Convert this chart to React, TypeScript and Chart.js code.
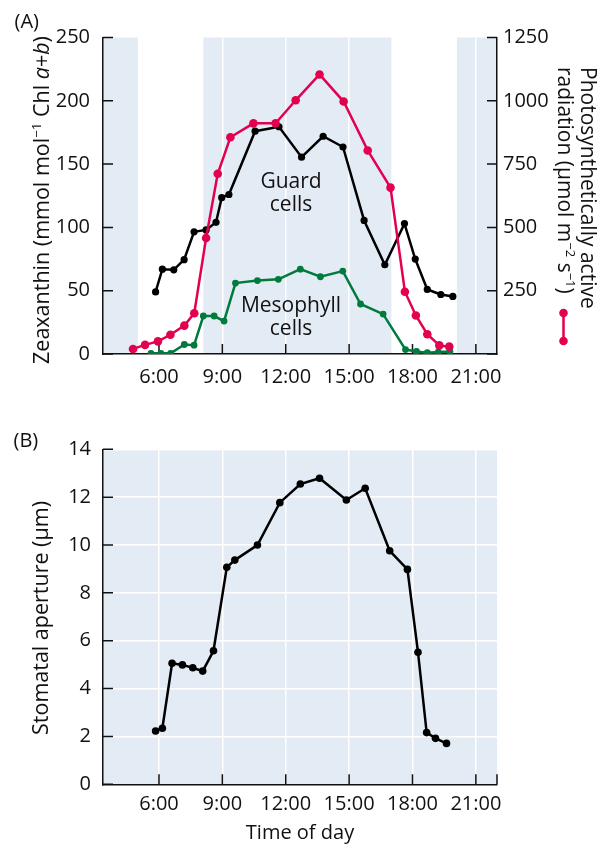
import React, { useEffect, useRef } from 'react';
import { Chart, registerables } from 'chart.js';

Chart.register(...registerables);

// ---- data -------------------------------------------------------------
// Time axis (hours of the day)
const hourMin = 3.35;
const hourMax = 22;
const hourTicks = [6, 9, 12, 15, 18, 21];

// Shaded stretches of the day in panel A (start hour, end hour)
const shadedSpans: [number, number][] = [
  [3.35, 5.0],
  [8.1, 17.0],
  [20.1, 22],
];

// Photosynthetically active radiation (µmol m-2 s-1)
const parHours = [4.77, 5.34, 5.95, 6.54, 7.2, 7.67, 8.23, 8.78, 9.38, 10.47, 11.52, 12.47, 13.6, 14.74, 15.88, 16.96, 17.64, 18.16, 18.7, 19.27, 19.74];
const parValues = [20, 36, 50, 76, 112, 161, 458, 712, 856, 911, 911, 1002, 1104, 997, 804, 657, 246, 152, 78, 34, 29];

// Zeaxanthin in guard cells (mmol mol-1 Chl a+b)
const guardHours = [5.84, 6.16, 6.7, 7.19, 7.66, 8.23, 8.7, 8.97, 9.31, 10.55, 11.68, 12.75, 13.77, 14.71, 15.71, 16.69, 17.62, 18.13, 18.7, 19.34, 19.91];
const guardValues = [49, 67, 66.5, 74.5, 96.5, 98, 104, 123.5, 126, 176, 179.5, 155.5, 172, 163.5, 105.5, 70.5, 103, 75, 51, 47, 45.5];

// Zeaxanthin in mesophyll cells (mmol mol-1 Chl a+b)
const mesoHours = [5.62, 6.09, 6.55, 7.2, 7.66, 8.1, 8.61, 9.08, 9.62, 10.66, 11.65, 12.69, 13.64, 14.7, 15.54, 16.61, 17.67, 18.19, 18.7, 19.22, 19.77];
const mesoValues = [0.5, 0.5, 0.5, 7.5, 7, 30, 30, 26, 56, 58, 59, 67, 61, 65.5, 39.5, 31.5, 3.5, 2, 1, 1.5, 2];

// Stomatal aperture (µm)
const apertureHours = [5.84, 6.16, 6.62, 7.11, 7.6, 8.07, 8.58, 9.21, 9.59, 10.66, 11.72, 12.69, 13.6, 14.87, 15.76, 16.92, 17.76, 18.26, 18.67, 19.09, 19.61];
const apertureValues = [2.23, 2.34, 5.06, 4.99, 4.87, 4.73, 5.58, 9.07, 9.37, 10.0, 11.77, 12.55, 12.79, 11.88, 12.37, 9.76, 8.98, 5.52, 2.16, 1.92, 1.71];

// Axis ticks
const zeaTicks = [0, 50, 100, 150, 200, 250];
const parTicks = [0, 250, 500, 750, 1000, 1250];
const apertureTicks = [0, 2, 4, 6, 8, 10, 12, 14];

// ---- styles -------------------------------------------------------------
const FONT = '"Open Sans", "Noto Sans", sans-serif';
const INK = '#111111';
const RED = '#e2004f';
const GREEN = '#007a3d';
const SHADE = '#e3ebf5';

const pts = (xs: number[], ys: number[]) => xs.map((x, i) => ({ x, y: ys[i] }));

// Light-blue bands behind the plots
const bandsPlugin = {
  id: 'bands',
  beforeDraw(chart: any, _a: any, opts: any) {
    const { ctx, chartArea } = chart;
    const x = chart.scales.x;
    ctx.save();
    ctx.fillStyle = SHADE;
    if (opts.full) {
      ctx.fillRect(chartArea.left, chartArea.top, chartArea.right - chartArea.left, chartArea.bottom - chartArea.top);
    } else {
      for (const [a, b] of shadedSpans) {
        const x0 = x.getPixelForValue(a);
        const x1 = x.getPixelForValue(b);
        ctx.fillRect(x0, chartArea.top, x1 - x0, chartArea.bottom - chartArea.top);
      }
    }
    ctx.restore();
  },
};

// Short tick marks pointing into the plot area
const inwardTicksPlugin = {
  id: 'inwardTicks',
  beforeDatasetsDraw(chart: any, _a: any, opts: any) {
    const { ctx, chartArea } = chart;
    const { left, right, bottom } = chartArea;
    const len = 10;
    ctx.save();
    ctx.strokeStyle = INK;
    ctx.lineWidth = 1.5;
    ctx.beginPath();
    for (const id of Object.keys(chart.scales)) {
      const s = chart.scales[id];
      for (const t of s.ticks) {
        const p = s.getPixelForValue(t.value);
        if (s.isHorizontal()) {
          ctx.moveTo(p, bottom);
          ctx.lineTo(p, bottom - len);
        } else if (s.position === 'left') {
          ctx.moveTo(left, p);
          ctx.lineTo(left + len, p);
        } else {
          ctx.moveTo(right, p);
          ctx.lineTo(right - len, p);
        }
      }
    }
    if (opts.endTick) {
      ctx.moveTo(right, bottom);
      ctx.lineTo(right, bottom - len);
    }
    ctx.stroke();
    ctx.restore();
  },
};

// In-plot labels for the two zeaxanthin curves, plus the PAR key symbol
const curveLabelsPlugin = {
  id: 'curveLabels',
  afterDatasetsDraw(chart: any) {
    const { ctx } = chart;
    const x = chart.scales.x;
    const y = chart.scales.y;
    ctx.save();
    ctx.fillStyle = INK;
    ctx.font = `21px ${FONT}`;
    ctx.textAlign = 'center';
    ctx.textBaseline = 'alphabetic';
    const cx = x.getPixelForValue(12.25);
    ctx.fillText('Guard', cx, y.getPixelForValue(131));
    ctx.fillText('cells', cx, y.getPixelForValue(112.6));
    ctx.fillText('Mesophyll', cx, y.getPixelForValue(33.5));
    ctx.fillText('cells', cx, y.getPixelForValue(15));

    // key symbol for the PAR curve (beside the right-hand axis title)
    const kx = 563.5;
    const ky0 = 313;
    const ky1 = 341;
    ctx.strokeStyle = RED;
    ctx.fillStyle = RED;
    ctx.lineWidth = 2.5;
    ctx.beginPath();
    ctx.moveTo(kx, ky0);
    ctx.lineTo(kx, ky1);
    ctx.stroke();
    for (const ky of [ky0, ky1]) {
      ctx.beginPath();
      ctx.arc(kx, ky, 4.3, 0, Math.PI * 2);
      ctx.fill();
    }
    ctx.restore();
  },
};

const tickFont = { family: FONT, size: 20 };

const hourAxis = (padding: number, height: number, title?: string) => ({
  type: 'linear' as const,
  min: hourMin,
  max: hourMax,
  afterBuildTicks: (s: any) => {
    s.ticks = hourTicks.map((v) => ({ value: v }));
  },
  afterFit: (s: any) => {
    s.height = height;
  },
  ticks: {
    color: INK,
    font: tickFont,
    padding,
    maxRotation: 0,
    autoSkip: false,
    callback: (v: any) => `${v}:00`,
  },
  grid: { display: true, color: '#ffffff', lineWidth: 1.5, drawTicks: false, tickLength: 0 },
  border: { display: true, color: INK, width: 1.5 },
  title: title
    ? { display: true, text: title, color: INK, font: { family: FONT, size: 20, lineHeight: 1.2 }, padding: { top: 0, bottom: 0 } }
    : { display: false },
});

function buildPanelA(canvas: HTMLCanvasElement) {
  return new Chart(canvas, {
    type: 'line',
    data: {
      datasets: [
        {
          label: 'Photosynthetically active radiation',
          data: pts(parHours, parValues),
          yAxisID: 'yPar',
          borderColor: RED,
          backgroundColor: RED,
          pointBackgroundColor: RED,
          borderWidth: 2.5,
          pointRadius: 4.3,
          pointBorderWidth: 0,
        },
        {
          label: 'Guard cells',
          data: pts(guardHours, guardValues),
          yAxisID: 'y',
          borderColor: '#000000',
          backgroundColor: '#000000',
          pointBackgroundColor: '#000000',
          borderWidth: 2.5,
          pointRadius: 3.6,
          pointBorderWidth: 0,
        },
        {
          label: 'Mesophyll cells',
          data: pts(mesoHours, mesoValues),
          yAxisID: 'y',
          borderColor: GREEN,
          backgroundColor: GREEN,
          pointBackgroundColor: GREEN,
          borderWidth: 2.5,
          pointRadius: 3.4,
          pointBorderWidth: 0,
        },
      ],
    },
    options: {
      responsive: false,
      animation: false,
      events: [],
      layout: { padding: { top: 37.5, left: 0, right: 0, bottom: 0 } },
      elements: { line: { tension: 0 } },
      plugins: {
        legend: { display: false },
        tooltip: { enabled: false },
        bands: {},
        inwardTicks: {},
      } as any,
      scales: {
        x: hourAxis(11, 46) as any,
        y: {
          type: 'linear',
          position: 'left',
          min: 0,
          max: 250,
          afterBuildTicks: (s: any) => {
            s.ticks = zeaTicks.map((v) => ({ value: v }));
          },
          afterFit: (s: any) => {
            s.width = 103;
          },
          ticks: { color: INK, font: tickFont, padding: 13 },
          grid: { display: false, drawTicks: false, tickLength: 0 },
          border: { display: true, color: INK, width: 1.5 },
        },
        yPar: {
          type: 'linear',
          position: 'right',
          min: 0,
          max: 1250,
          afterBuildTicks: (s: any) => {
            s.ticks = parTicks.map((v) => ({ value: v }));
          },
          afterFit: (s: any) => {
            s.width = 109;
          },
          ticks: { color: INK, font: tickFont, padding: 6, callback: (v: any) => (v === 0 ? '' : `${v}`) },
          grid: { display: false, drawTicks: false, tickLength: 0 },
          border: { display: true, color: INK, width: 1.5 },
        },
      },
    },
    plugins: [bandsPlugin, inwardTicksPlugin, curveLabelsPlugin],
  } as any);
}

function buildPanelB(canvas: HTMLCanvasElement) {
  return new Chart(canvas, {
    type: 'line',
    data: {
      datasets: [
        {
          label: 'Stomatal aperture',
          data: pts(apertureHours, apertureValues),
          borderColor: '#000000',
          backgroundColor: '#000000',
          pointBackgroundColor: '#000000',
          borderWidth: 2.5,
          pointRadius: 3.8,
          pointBorderWidth: 0,
        },
      ],
    },
    options: {
      responsive: false,
      animation: false,
      events: [],
      layout: { padding: { top: 49.3, left: 0, right: 109, bottom: 0 } },
      elements: { line: { tension: 0 } },
      plugins: {
        legend: { display: false },
        tooltip: { enabled: false },
        bands: { full: true },
        inwardTicks: { endTick: true },
      } as any,
      scales: {
        x: hourAxis(7.5, 60.7, 'Time of day') as any,
        y: {
          type: 'linear',
          position: 'left',
          min: 0,
          max: 14,
          afterBuildTicks: (s: any) => {
            s.ticks = apertureTicks.map((v) => ({ value: v }));
          },
          afterFit: (s: any) => {
            s.width = 103;
          },
          ticks: { color: INK, font: tickFont, padding: 12 },
          grid: { display: true, color: '#ffffff', lineWidth: 1.5, drawTicks: false, tickLength: 0 },
          border: { display: true, color: INK, width: 1.5 },
        },
      },
    },
    plugins: [bandsPlugin, inwardTicksPlugin],
  } as any);
}

const sup: React.CSSProperties = { fontSize: '0.62em', lineHeight: 0, verticalAlign: '0.6em' };

function RotatedTitle(props: { cx: number; cy: number; size: number; children: React.ReactNode }) {
  return (
    <div
      style={{
        position: 'absolute',
        left: props.cx,
        top: props.cy,
        transform: 'translate(-50%, -50%) rotate(-90deg)',
        whiteSpace: 'nowrap',
        fontSize: props.size,
        lineHeight: '23px',
      }}
    >
      {props.children}
    </div>
  );
}

export default function App() {
  const refA = useRef<HTMLCanvasElement>(null);
  const refB = useRef<HTMLCanvasElement>(null);

  useEffect(() => {
    const a = buildPanelA(refA.current!);
    const b = buildPanelB(refB.current!);
    return () => {
      a.destroy();
      b.destroy();
    };
  }, []);

  return (
    <div
      style={{
        position: 'absolute',
        left: 0,
        top: 0,
        width: 606,
        height: 845,
        overflow: 'hidden',
        background: '#ffffff',
        fontFamily: FONT,
        color: INK,
      }}
    >
      <canvas ref={refA} width={606} height={400} style={{ position: 'absolute', left: 0, top: 0, width: 606, height: 400 }} />
      <canvas ref={refB} width={606} height={445} style={{ position: 'absolute', left: 0, top: 400, width: 606, height: 445 }} />

      <div style={{ position: 'absolute', left: 14.5, top: 9.2, fontSize: 20, lineHeight: '23px' }}>(A)</div>
      <div style={{ position: 'absolute', left: 13.5, top: 428, fontSize: 20, lineHeight: '23px' }}>(B)</div>

      <RotatedTitle cx={40} cy={200} size={21.5}>
        Zeaxanthin (mmol mol<span style={sup}>−1</span> Chl <i>a</i>+<i>b</i>)
      </RotatedTitle>

      <RotatedTitle cx={39} cy={617.5} size={21.5}>
        Stomatal aperture (µm)
      </RotatedTitle>

      <div
        style={{
          position: 'absolute',
          left: 600,
          top: 66.5,
          transformOrigin: '0 0',
          transform: 'rotate(90deg)',
          whiteSpace: 'nowrap',
          fontSize: 21,
          lineHeight: '23px',
        }}
      >
        <div>Photosynthetically active</div>
        <div>
          radiation (µmol m<span style={sup}>−2</span> s<span style={sup}>−1</span>)
        </div>
      </div>
    </div>
  );
}
